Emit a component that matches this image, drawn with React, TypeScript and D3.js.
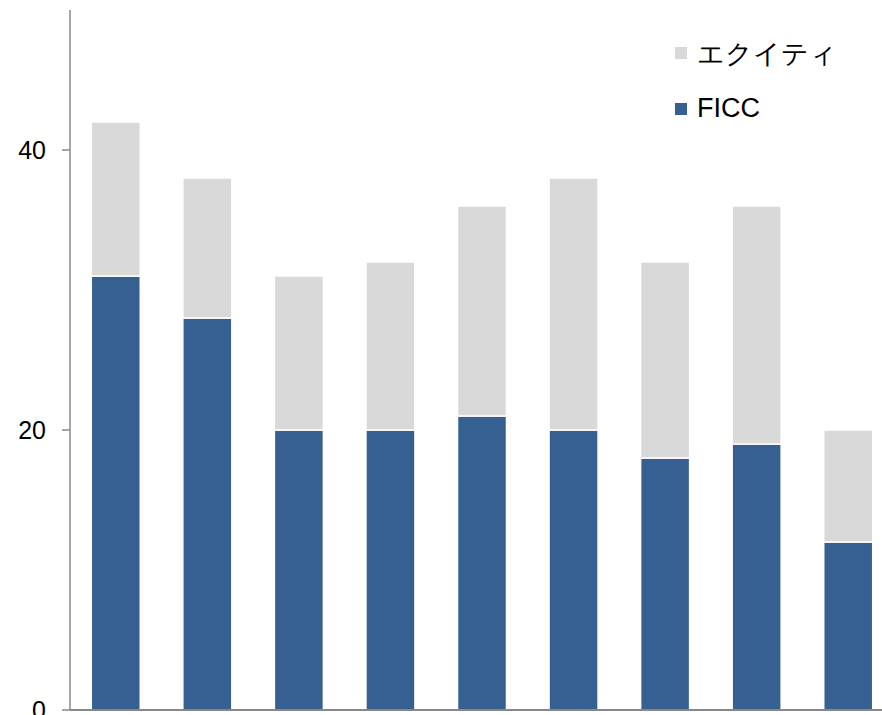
import React from "react";
import * as d3 from "d3";

const categories = ["1", "2", "3", "4", "5", "6", "7", "8", "9"];
const ficc = [31, 28, 20, 20, 21, 20, 18, 19, 12];
const equity = [11, 10, 11, 12, 15, 18, 14, 17, 8];
const yTicks = [0, 20, 40];
const seriesNames = ["FICC", "エクイティ"];
const colors = ["#376092", "#d9d9d9"];

export default function App() {
  const W = 882, H = 715;
  const x = d3.scaleBand().domain(categories).range([70, 894]).paddingInner(0.465).paddingOuter(0.2325);
  const y = d3.scaleLinear().domain([0, 50]).range([710, 10]);
  const rows = categories.map((c, i) => ({ cat: c, FICC: ficc[i], エクイティ: equity[i] }));
  const stack = d3.stack<any>().keys(seriesNames)(rows);
  const font = "'Liberation Sans', Arial, sans-serif";
  return (
    <svg width={W} height={H} style={{ position: "absolute", left: 0, top: 0 }}>
      {stack.map((s, si) => (
        <g key={si} fill={colors[si]}>
          {s.map((d, i) => (
            <rect key={i} x={x(categories[i])} width={x.bandwidth()} y={y(d[1])} height={y(d[0]) - y(d[1])}
              stroke="#fff" strokeWidth={1.5} />
          ))}
        </g>
      ))}
      <line x1={70} x2={70} y1={10} y2={710} stroke="#888" strokeWidth={1.5} />
      <line x1={70} x2={882} y1={710} y2={710} stroke="#888" strokeWidth={2} />
      {yTicks.map((t) => (
        <g key={t}>
          <line x1={62} x2={70} y1={y(t)} y2={y(t)} stroke="#888" strokeWidth={1.5} />
          <text x={46} y={y(t) + 9} textAnchor="end" fontSize={25} fontFamily={font} fill="#000">{t}</text>
        </g>
      ))}
      <rect x={675} y={47} width={12} height={12} fill={colors[1]} />
      <text x={697} y={63} fontSize={27} fontFamily={font} fill="#000">エクイティ</text>
      <rect x={675} y={103} width={12} height={12} fill={colors[0]} />
      <text x={697} y={117} fontSize={27} fontFamily={font} fill="#000">FICC</text>
    </svg>
  );
}
